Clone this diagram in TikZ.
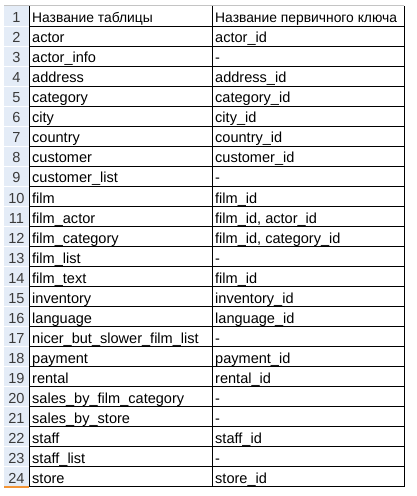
\documentclass[tikz,border=0pt]{standalone}
\usepackage{fontspec}
\setmainfont{Liberation Sans}
\definecolor{headbg}{HTML}{E4ECF7}
\definecolor{headtxt}{HTML}{3A3A3A}
\definecolor{edgegray}{HTML}{C4C4C4}
\definecolor{selorange}{HTML}{F29436}

\begin{document}
\begin{tikzpicture}[x=1bp,y=-1bp,
  every node/.style={inner sep=0pt,font=\fontsize{14.6}{17}\selectfont},
  rownum/.style={anchor=base,text=headtxt},
  cell/.style={anchor=base west},
  headcell/.style={cell,font=\fontsize{13.9}{17}\selectfont},
  gridline/.style={line width=1bp,black}]
\useasboundingbox (0,0) rectangle (416,496);
\fill[headbg] (4,6.5) rectangle (29,486.5);
\draw[edgegray] (4,5) -- (404,5);
% header row
\node[rownum] (n1) at (16.5,23) {1};
\node[headcell] (t1) at (32,23) {Название таблицы};
\node[headcell] (k1) at (215,23) {Название первичного ключа};
\draw[white] (4,26.5) -- (29,26.5);
\draw[gridline] (29,26.5) -- (404,26.5);
% table rows
\foreach [count=\i from 2] \tname/\tkey in {
  actor/actor\_id, actor\_info/-, address/address\_id,
  category/category\_id, city/city\_id, country/country\_id,
  customer/customer\_id, customer\_list/-, film/film\_id,
  film\_actor/{film\_id, actor\_id}, film\_category/{film\_id, category\_id},
  film\_list/-, film\_text/film\_id, inventory/inventory\_id,
  language/language\_id, nicer\_but\_slower\_film\_list/-,
  payment/payment\_id, rental/rental\_id, sales\_by\_film\_category/-,
  sales\_by\_store/-, staff/staff\_id, staff\_list/-, store/store\_id}{
  \node[rownum] (n\i) at (16.5,{3+20*\i}) {\i};
  \node[cell] (t\i) at (32,{3+20*\i}) {\tname};
  \node[cell] (k\i) at (215,{3+20*\i}) {\tkey};
  \draw[white] (4,{6.5+20*\i}) -- (29,{6.5+20*\i});
  \draw[gridline] (29,{6.5+20*\i}) -- (404,{6.5+20*\i});
}
\draw[gridline] (29.5,6) -- (29.5,487)
  (212,6) -- (212,487)
  (404,6) -- (404,487);
\draw[selorange,line width=1.5bp] (4,487.2) -- (29,487.2);
\end{tikzpicture}
\end{document}
